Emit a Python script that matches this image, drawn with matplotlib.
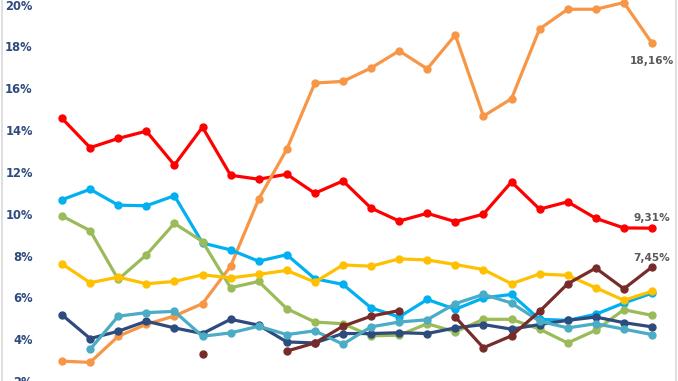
import numpy as np
import matplotlib
matplotlib.use("Agg")
import matplotlib.pyplot as plt
from matplotlib.lines import Line2D

nan = np.nan
periods = list(range(22))

red = [14.56, 13.16, 13.60, 13.95, 12.33, 14.14, 11.84, 11.65, 11.89, 10.98, 11.57,
       10.27, 9.65, 10.02, 9.62, 9.98, 11.52, 10.22, 10.57, 9.78, 9.32, 9.31]
orange = [2.95, 2.89, 4.14, 4.71, 5.11, 5.70, 7.49, 10.70, 13.08, 16.25, 16.33,
          16.97, 17.79, 16.93, 18.55, 14.67, 15.50, 18.84, 19.78, 19.78, 20.10, 18.16]
cyan = [10.67, 11.17, 10.41, 10.38, 10.86, 8.60, 8.27, 7.73, 8.04, 6.89, 6.62,
        5.50, 5.06, 5.90, 5.43, 5.97, 6.14, 4.95, 4.90, 5.19, 5.73, 6.20]
green = [9.89, 9.19, 6.86, 8.03, 9.54, 8.67, 6.46, 6.76, 5.46, 4.82, 4.74,
         4.16, 4.19, 4.74, 4.35, 4.95, 4.95, 4.48, 3.82, 4.43, 5.41, 5.14]
yellow = [7.60, 6.70, 6.97, 6.65, 6.76, 7.08, 6.93, 7.10, 7.29, 6.73, 7.55,
          7.49, 7.84, 7.79, 7.57, 7.33, 6.65, 7.12, 7.05, 6.46, 5.86, 6.29]
navy = [5.16, 4.03, 4.38, 4.86, 4.54, 4.27, 4.95, 4.67, 3.87, 3.82, 4.27,
        4.27, 4.31, 4.27, 4.54, 4.70, 4.48, 4.70, 4.90, 5.06, 4.79, 4.59]
teal = [nan, 3.52, 5.10, 5.27, 5.33, 4.14, 4.30, 4.62, 4.22, 4.40, 3.76,
        4.59, 4.82, 4.93, 5.70, 6.14, 5.73, 4.86, 4.54, 4.74, 4.48, 4.22]
maroon = [nan, nan, nan, nan, nan, 3.31, nan, nan, 3.43, 3.82, 4.62,
          5.10, 5.37, nan, 5.06, 3.59, 4.16, 5.33, 6.65, 7.40, 6.41, 7.45]

yticks = [2, 4, 6, 8, 10, 12, 14, 16, 18, 20]
end_labels = ["18,16%", "9,31%", "7,45%"]

series = [
    (red, "#FF0000"),
    (orange, "#F79646"),
    (cyan, "#00B0F0"),
    (green, "#9BBB59"),
    (yellow, "#FFC000"),
    (navy, "#2E4B7D"),
    (teal, "#4BACC6"),
    (maroon, "#772C2A"),
]

fig = plt.figure(figsize=(6.78, 3.81), dpi=100)
ax = fig.add_axes([48 / 678, 0, 618 / 678, 1])

for vals, col in series:
    ax.plot(periods, vals, color=col, linewidth=2.3, marker="o", markersize=5,
            solid_capstyle="round")

ax.set_xlim(-0.5, 21.5)
ax.set_ylim(2.079, 20.222)
ax.set_yticks(yticks)
ax.set_yticklabels([f"{t}%" for t in yticks])
ax.tick_params(axis="y", length=0, pad=11, labelsize=8.3, labelcolor="#2E4B7D")
for lab in ax.get_yticklabels():
    lab.set_fontweight("bold")
ax.set_xticks([])
for s in ax.spines.values():
    s.set_visible(False)

# etiquetas finales
ends = [(orange, end_labels[0], -13), (red, end_labels[1], 7.5), (maroon, end_labels[2], 6.2)]
for vals, txt, dy in ends:
    ax.annotate(txt, (periods[-1], vals[-1]), xytext=(0, dy), textcoords="offset points",
                ha="center", va="center", fontsize=7.6, fontweight="bold", color="#595959")

# borde del gráfico
fig.add_artist(Line2D([1.5 / 678, 1.5 / 678], [0, 1], color="#D9D9D9", linewidth=1.2))
fig.add_artist(Line2D([676 / 678, 676 / 678], [0, 1], color="#D9D9D9", linewidth=1.2))

fig.savefig("out.png", dpi=100)
